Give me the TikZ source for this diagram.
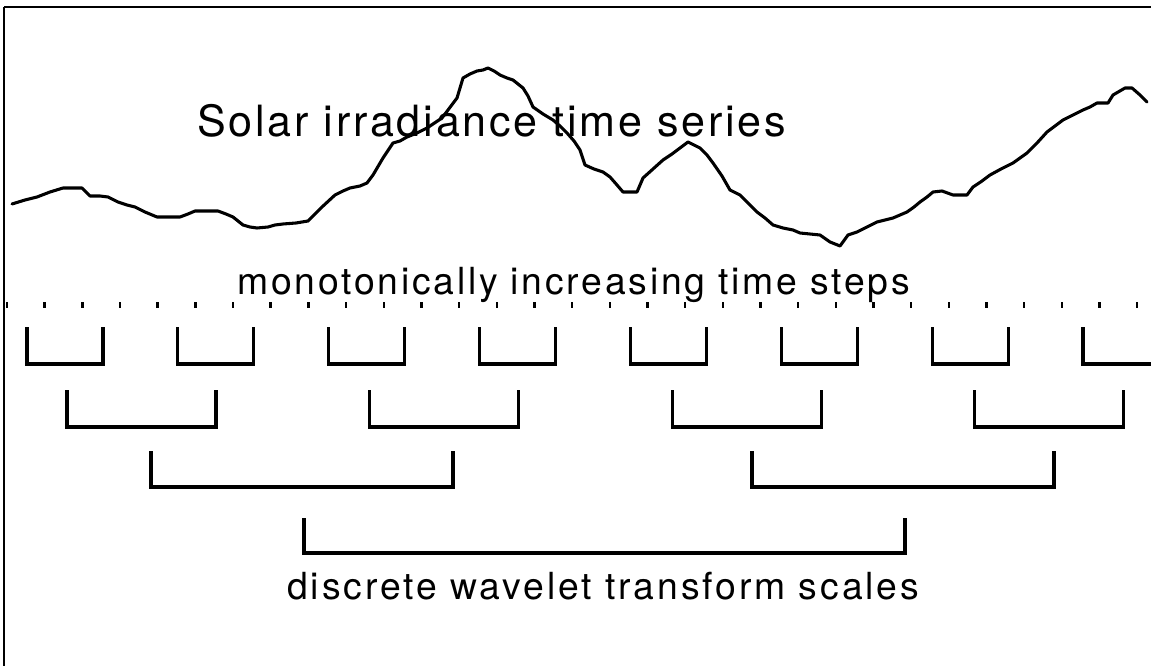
\documentclass[tikz,border=0pt]{standalone}
\usepackage{fontspec}
\setmainfont{TeX Gyre Heros}
\newfontfamily\titlefont[LetterSpace=6.5]{TeX Gyre Heros}
\newfontfamily\stepsfont[LetterSpace=7.4]{TeX Gyre Heros}
\newfontfamily\scalesfont[LetterSpace=7.8]{TeX Gyre Heros}
\begin{document}
\begin{tikzpicture}[x=0.75pt,y=-0.75pt,
  frame/.style={line width=1.1pt},
  series/.style={line width=2.3pt,line join=round,line cap=round},
  bracket/.style={line width=2.3pt,line join=miter},
  tick/.style={fill=black},
  label/.style={inner sep=0pt,anchor=base west}]
\useasboundingbox (0,0) rectangle (1151,666);
\fill[white] (0,0) rectangle (1151,666);
\clip (0,0) rectangle (1151,666);

% frame (top and left edges)
\draw[frame] (4,7) -- (1160,7);
\draw[frame] (4,7) -- (4,680);

% irradiance record
\draw[series] plot coordinates {
 (12,204) (25,200) (37,197) (50,192) (63,188) (72,188) (82,188) (90,196)
 (100,196) (108,197) (118,202) (127,205) (135,207) (145,212) (157,217)
 (168,217) (180,217) (188,214) (195,211) (207,211) (218,211) (226,214)
 (233,217) (243,225) (250,227) (257,228) (268,227) (275,225) (283,224)
 (296,223) (308,221) (322,207) (335,195) (343,191) (350,188) (360,186)
 (367,183) (373,175) (383,158) (393,143) (400,141) (407,137) (417,133)
 (427,128) (442,118) (457,98) (463,78) (470,74) (477,71) (483,70)
 (488,68) (494,71) (500,75) (507,78) (513,80) (518,84) (523,88) (528,96)
 (533,107) (543,114) (553,120) (560,126) (567,133) (574,141) (580,150)
 (585,165) (594,169) (603,172) (610,177) (617,185) (623,192) (630,192)
 (637,192) (643,178) (653,169) (663,160) (672,154) (680,148) (688,142)
 (694,145) (700,148) (707,155) (713,163) (722,176) (730,190) (740,195)
 (748,203) (757,212) (765,218) (773,225) (783,228) (793,230) (800,233)
 (810,234) (820,235) (830,242) (840,246) (848,235) (857,232) (867,227)
 (877,222) (885,220) (893,218) (900,215) (907,212) (914,207) (920,202)
 (927,197) (933,192) (942,191) (953,195) (960,195) (967,195) (973,187)
 (982,181) (990,175) (1001,169) (1013,163) (1020,158) (1027,153)
 (1037,143) (1047,132) (1055,126) (1063,120) (1073,115) (1083,110)
 (1090,107) (1097,103) (1108,103) (1113,95) (1125,88) (1132,88)
 (1140,95) (1147,102)};

% titles
\node[label,font=\titlefont\fontsize{32.3pt}{36pt}\selectfont] (title) at (197,137)
  {Solar irradiance time series};
\node[label,font=\stepsfont\fontsize{28pt}{32pt}\selectfont] (steps) at (237,295)
  {monotonically increasing time steps};
\node[label,font=\scalesfont\fontsize{28pt}{32pt}\selectfont] (scales) at (287,599)
  {discrete wavelet transform scales};

% time steps
\foreach \k in {0,...,30} {
  \fill[tick] ({7+37.67*\k-1.2},302) rectangle ({7+37.67*\k+1.2},308);
}

% finest scale
\foreach \k in {0,...,7} {
  \draw[bracket] ({27+150.85*\k},327) |- ({103+150.85*\k},364) -- ({103+150.85*\k},327);
}
% second scale
\foreach \k in {0,...,3} {
  \draw[bracket] ({67+302.6*\k},390) |- ({216+302.6*\k},427) -- ({216+302.6*\k},390);
}
% third scale
\foreach \k in {0,1} {
  \draw[bracket] ({151+601*\k},451) |- ({453+601*\k},487) -- ({453+601*\k},451);
}
% coarsest scale
\draw[bracket] (304,518) |- (905,553) -- (905,518);
\end{tikzpicture}
\end{document}
